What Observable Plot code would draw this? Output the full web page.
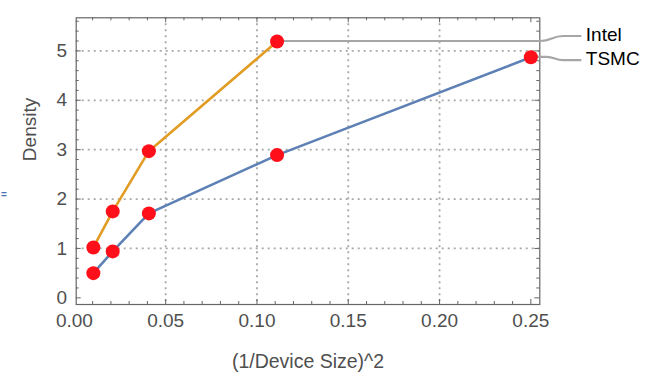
<!DOCTYPE html>
<html><head><meta charset="utf-8">
<script src="https://cdn.jsdelivr.net/npm/d3@7"></script>
<script src="https://cdn.jsdelivr.net/npm/@observablehq/plot@0.6"></script>
<style>body{margin:0;background:#fff}</style>
</head><body><div id="chart"></div>
<script>
// ---- data ----
const xValues = [0.0104, 0.021, 0.0408, 0.111, 0.25];
const intelDensity = [1.02, 1.75, 2.97, 5.19];
const tsmcDensity = [0.50, 0.94, 1.71, 2.89, 4.87];
const seriesNames = ["Intel", "TSMC"];
const xTickValues = [0, 0.05, 0.10, 0.15, 0.20, 0.25];
const yTickValues = [0, 1, 2, 3, 4, 5];
const xLabel = "(1/Device Size)^2";
const yLabel = "Density";

// ---- layout ----
const W = 658, H = 388, mL = 75.7, mR = 118.7, mT = 17.3, mB = 84;
const pw = W - mL - mR, ph = H - mT - mB;
const font = "'Liberation Sans', Arial, Helvetica, sans-serif";
const grey = "#4f4f4f";

const intel = intelDensity.map((y, i) => ({x: xValues[i], y}));
const tsmc = tsmcDensity.map((y, i) => ({x: xValues[i], y}));
const xMajor = xTickValues.filter(v => v > 0);
const xMinor = d3.range(1, 26).map(i => i / 100).filter(v => Math.round(v * 100) % 5 !== 0);
const yMinor = d3.range(0, 29).map(i => i / 5).filter(v => Math.abs(v - Math.round(v)) > 1e-6);
const xGrid = xTickValues.filter(v => v > 0 && v < 0.25);
const yGrid = yTickValues.filter(v => v > 0);
const tickStroke = {stroke: "#666", strokeWidth: 1};
const gridStyle = {stroke: "#a8a8a8", strokeWidth: 1.8, strokeDasharray: "2,4"};

const plot = Plot.plot({
  width: W, height: H,
  marginLeft: mL, marginRight: mR, marginTop: mT, marginBottom: mB,
  style: {fontFamily: font, fontSize: "19px", background: "#fff"},
  x: {domain: [0.001, 0.2549], axis: null},
  y: {domain: [-0.135, 5.67], axis: null},
  marks: [
    Plot.ruleX(xGrid, {x: d => d, ...gridStyle}),
    Plot.ruleY(yGrid, {y: d => d, ...gridStyle}),
    // ticks inside the frame on all four sides
    Plot.tickX(xMajor, {x: d => d, insetTop: ph - 5, ...tickStroke}),
    Plot.tickX(xMinor, {x: d => d, insetTop: ph - 3, ...tickStroke}),
    Plot.tickX(xMajor, {x: d => d, insetBottom: ph - 5, ...tickStroke}),
    Plot.tickX(xMinor, {x: d => d, insetBottom: ph - 3, ...tickStroke}),
    Plot.tickY(yTickValues, {y: d => d, insetRight: pw - 5, ...tickStroke}),
    Plot.tickY(yMinor, {y: d => d, insetRight: pw - 3, ...tickStroke}),
    Plot.tickY(yTickValues, {y: d => d, insetLeft: pw - 5, ...tickStroke}),
    Plot.tickY(yMinor, {y: d => d, insetLeft: pw - 3, ...tickStroke}),
    Plot.frame({stroke: "#666", strokeWidth: 1.2}),
    // tick labels
    Plot.text(xTickValues, {x: d => d, frameAnchor: "bottom", dy: 9, lineAnchor: "top",
      text: d => d3.format(".2f")(d), fill: grey, fontSize: 19}),
    Plot.text(yTickValues, {y: d => d, frameAnchor: "left", dx: -9, textAnchor: "end",
      text: d => String(d), fill: grey, fontSize: 19}),
    // axis titles
    Plot.text([xLabel], {frameAnchor: "bottom", dy: 57.7, lineAnchor: "middle", text: d => d, fill: grey, fontSize: 19.5}),
    Plot.text([yLabel], {frameAnchor: "left", dx: -46.7, rotate: -90, text: d => d, fill: grey, fontSize: 19}),
    Plot.text(["="], {frameAnchor: "left", dx: -75.2, dy: 34, textAnchor: "start", text: d => d, fill: "#4a72b0", fontSize: 10, fontWeight: "bold"}),
    // series
    Plot.line(tsmc, {x: "x", y: "y", stroke: "#5E81B5", strokeWidth: 2.6}),
    Plot.line(intel, {x: "x", y: "y", stroke: "#E19C24", strokeWidth: 2.6}),
    Plot.dot([...intel, ...tsmc], {x: "x", y: "y", r: 7, fill: "#FF0F1A", stroke: "none"}),
    // series labels
    Plot.text([intel[intel.length - 1]], {y: "y", frameAnchor: "right", dx: 46, dy: -7, textAnchor: "start",
      text: () => seriesNames[0], fill: "#000", fontSize: 19}),
    Plot.text([tsmc[tsmc.length - 1]], {y: "y", frameAnchor: "right", dx: 46, dy: 1.6, textAnchor: "start",
      text: () => seriesNames[1], fill: "#000", fontSize: 19})
  ]
});

// callout leader lines, positioned through the plot's scales
const sx = plot.scale("x"), sy = plot.scale("y");
const R = W - mR;
const svg = d3.select(plot);
const dotsNode = svg.select('g[aria-label="dot"]').node();
function leader(pt, bendStart, yShift) {
  const x0 = sx.apply(pt.x), y0 = sy.apply(pt.y), y1 = y0 + yShift;
  const a = R + bendStart, b = R + 24;
  const m = (a + b) / 2;
  return `M${x0},${y0}H${a}C${m},${y0} ${m},${y1} ${b},${y1}H${R + 42}`;
}
[[intel[intel.length - 1], 1, -5], [tsmc[tsmc.length - 1], 7, 3.3]].forEach(([pt, bs, ys]) => {
  svg.insert("path", () => dotsNode)
    .attr("d", leader(pt, bs, ys))
    .attr("fill", "none").attr("stroke", "#a6a6a6").attr("stroke-width", 2.2);
});

document.getElementById("chart").append(plot);
</script>
</body></html>
